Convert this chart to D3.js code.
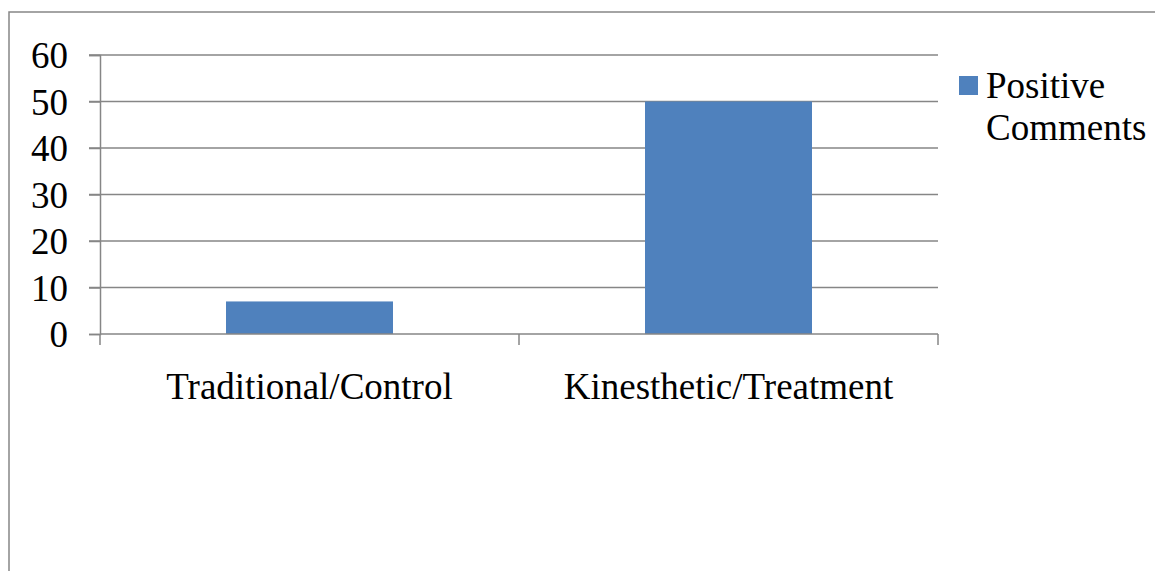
<!DOCTYPE html>
<html>
<head>
<meta charset="utf-8">
<script src="https://cdn.jsdelivr.net/npm/d3@7"></script>
<style>
  html, body { margin: 0; padding: 0; background: #fff; }
  svg text { font-family: "Liberation Serif", "Times New Roman", serif; fill: #000; }
</style>
</head>
<body>
<svg id="chart" width="1155" height="571"></svg>
<script>
'use strict';

var categories = ["Traditional/Control", "Kinesthetic/Treatment"];
var positiveComments = [7, 50];
var seriesName = ["Positive", "Comments"];
var yTicks = [0, 10, 20, 30, 40, 50, 60];

var svg = d3.select("#chart"),
    gridColor = "#868686",
    barColor = "#4f81bd",
    serif = "'Liberation Serif', 'Times New Roman', serif",
    fontSize = 37;

var margin = {left: 100, top: 55, right: 938, bottom: 334};

// outer frame (runs off the right and bottom of the picture)
svg.append("rect")
    .attr("x", 9).attr("y", 12)
    .attr("width", 1200).attr("height", 600)
    .style("fill", "none")
    .style("stroke", gridColor)
    .style("stroke-width", 1.5);

var xScale = d3.scaleBand().domain(categories).range([margin.left, margin.right])
        .paddingInner(0).paddingOuter(0),
    yScale = d3.scaleLinear().domain([0, 60]).range([margin.bottom, margin.top]);

// horizontal grid lines with short ticks to the left
svg.append("g").selectAll("line")
    .data(yTicks.filter(function(t){ return t > 0; }))
    .enter().append("line")
        .attr("x1", margin.left - 11)
        .attr("x2", margin.right)
        .attr("y1", function(d){ return yScale(d); })
        .attr("y2", function(d){ return yScale(d); })
        .style("stroke", gridColor)
        .style("stroke-width", 1.5);

// bars
var barWidth = 167;
svg.append("g").selectAll("rect")
    .data(positiveComments)
    .enter().append("rect")
        .attr("x", function(d, i){ return xScale(categories[i]) + xScale.bandwidth()/2 - barWidth/2; })
        .attr("y", function(d){ return yScale(d); })
        .attr("width", barWidth)
        .attr("height", function(d){ return yScale(0) - yScale(d); })
        .style("fill", barColor);

// y axis
var yAxis = d3.axisLeft(yScale).tickValues(yTicks).tickSize(11).tickPadding(21);
var gy = svg.append("g")
    .attr("transform", "translate(" + margin.left + ",0)")
    .attr("font-family", serif)
    .call(yAxis);
gy.select(".domain").style("stroke", gridColor).style("stroke-width", 1.5);
gy.selectAll(".tick line").style("stroke", gridColor).style("stroke-width", 1.5);
gy.selectAll(".tick text")
    .style("font-family", serif)
    .style("font-size", fontSize + "px")
    .style("fill", "#000")
    .attr("dy", "0.34em");

// x axis
var xAxis = d3.axisBottom(xScale).tickSize(0).tickFormat("");
var gx = svg.append("g")
    .attr("transform", "translate(0," + margin.bottom + ")")
    .call(xAxis);
gx.select(".domain").attr("d", "M" + margin.left + ",0H" + margin.right)
    .style("stroke", gridColor).style("stroke-width", 1.5);
gx.selectAll(".sep").data([margin.left].concat(categories.map(function(c){ return xScale(c) + xScale.bandwidth(); })))
    .enter().append("line")
        .attr("class", "sep")
        .attr("x1", function(d){ return d; }).attr("x2", function(d){ return d; })
        .attr("y1", 0).attr("y2", 11)
        .style("stroke", gridColor).style("stroke-width", 1.5);

svg.append("g").selectAll("text")
    .data(categories)
    .enter().append("text")
        .attr("x", function(d){ return xScale(d) + xScale.bandwidth()/2; })
        .attr("y", 399)
        .attr("text-anchor", "middle")
        .style("font-family", serif)
        .style("font-size", fontSize + "px")
        .text(function(d){ return d; });

// legend
var legend = svg.append("g");
legend.append("rect")
    .attr("x", 959).attr("y", 76)
    .attr("width", 19).attr("height", 19)
    .style("fill", barColor);
legend.selectAll("text")
    .data(seriesName)
    .enter().append("text")
        .attr("x", 986)
        .attr("y", function(d, i){ return 98 + i*42; })
        .style("font-family", serif)
        .style("font-size", fontSize + "px")
        .text(function(d){ return d; });
</script>
</body>
</html>
